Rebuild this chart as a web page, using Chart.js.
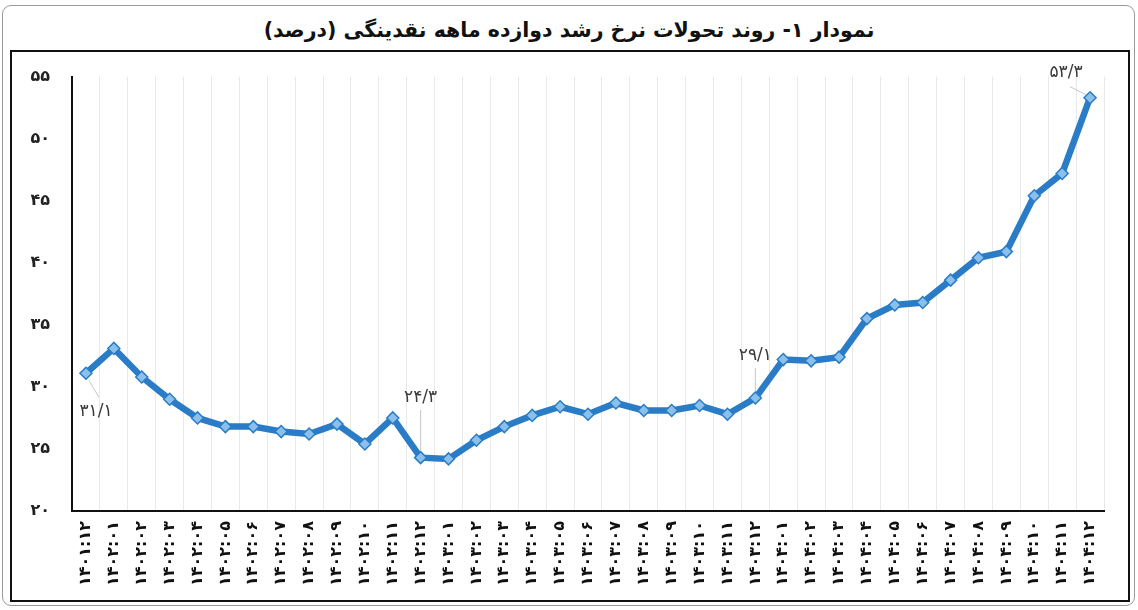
<!DOCTYPE html>
<html>
<head>
<meta charset="utf-8">
<script src="https://cdn.jsdelivr.net/npm/chart.js@4.4.1/dist/chart.umd.min.js"></script>
<style>
  body { margin: 0; width: 1138px; height: 610px; background: #fff; position: relative; overflow: hidden; }
  #outer { position: absolute; left: 2px; top: 5px; width: 1131px; height: 599px; border: 1px solid #9a9a9a; border-radius: 9px; }
  #title { position: absolute; left: 0; top: 18px; width: 1138px; text-align: center; font: bold 20.5px "DejaVu Sans", sans-serif; color: #111; }
  #box { position: absolute; left: 10px; top: 50px; width: 1116px; height: 548px; border: 2px solid #111; }
  #myChart { position: absolute; left: 0; top: -7px; }
</style>
</head>
<body>
<div id="outer"></div>
<div id="title" dir="rtl">نمودار ۱- روند تحولات نرخ رشد دوازده ماهه نقدینگی (درصد)</div>
<div id="box"><canvas id="myChart" width="1116" height="555"></canvas></div>
<script>
  const months = [
    "۱۴۰۱:۱۲",
    "۱۴۰۲:۰۱", "۱۴۰۲:۰۲", "۱۴۰۲:۰۳", "۱۴۰۲:۰۴", "۱۴۰۲:۰۵", "۱۴۰۲:۰۶",
    "۱۴۰۲:۰۷", "۱۴۰۲:۰۸", "۱۴۰۲:۰۹", "۱۴۰۲:۱۰", "۱۴۰۲:۱۱", "۱۴۰۲:۱۲",
    "۱۴۰۳:۰۱", "۱۴۰۳:۰۲", "۱۴۰۳:۰۳", "۱۴۰۳:۰۴", "۱۴۰۳:۰۵", "۱۴۰۳:۰۶",
    "۱۴۰۳:۰۷", "۱۴۰۳:۰۸", "۱۴۰۳:۰۹", "۱۴۰۳:۱۰", "۱۴۰۳:۱۱", "۱۴۰۳:۱۲",
    "۱۴۰۴:۰۱", "۱۴۰۴:۰۲", "۱۴۰۴:۰۳", "۱۴۰۴:۰۴", "۱۴۰۴:۰۵", "۱۴۰۴:۰۶",
    "۱۴۰۴:۰۷", "۱۴۰۴:۰۸", "۱۴۰۴:۰۹", "۱۴۰۴:۱۰", "۱۴۰۴:۱۱", "۱۴۰۴:۱۲"
  ];

  const growth = [
    31.1,
    33.1, 30.8, 29.0, 27.5, 26.8, 26.8, 26.4, 26.2, 27.0, 25.4, 27.5, 24.3,
    24.2, 25.7, 26.8, 27.7, 28.4, 27.8, 28.7, 28.1, 28.1, 28.5, 27.8, 29.1,
    32.2, 32.1, 32.4, 35.5, 36.6, 36.8, 38.6, 40.4, 40.9, 45.4, 47.2, 53.3
  ];

  const yTicks = [20, 25, 30, 35, 40, 45, 50, 55];
  const yTickLabels = ["۲۰", "۲۵", "۳۰", "۳۵", "۴۰", "۴۵", "۵۰", "۵۵"];

  // points that carry a value label
  const labelled = [0, 12, 24, 36];

  const faDigits = "۰۱۲۳۴۵۶۷۸۹";
  function toFa(v) {
    return v.toFixed(1).replace(".", "/").replace(/\d/g, (d) => faDigits[d]);
  }

  // label offsets relative to the point: [text dx, text dy, line from dx,dy, line to dx,dy]
  const labelOffsets = {
    0: [10, 38, 3, 7, 13, 24],
    12: [0, -60, 0, -7, 0, -48],
    24: [0, -42, 0, -7, 0, -30],
    36: [-24, -25, -4, -3, -20, -11],
  };

  const valueLabels = {
    id: "valueLabels",
    afterDatasetsDraw(chart) {
      const ctx = chart.ctx;
      const meta = chart.getDatasetMeta(0);
      ctx.save();
      labelled.forEach((i) => {
        const pt = meta.data[i];
        const o = labelOffsets[i];
        ctx.strokeStyle = "#c8c8c8";
        ctx.lineWidth = 1;
        ctx.beginPath();
        ctx.moveTo(pt.x + o[2], pt.y + o[3]);
        ctx.lineTo(pt.x + o[4], pt.y + o[5]);
        ctx.stroke();
        ctx.fillStyle = "#3a3a3a";
        ctx.font = "17px 'DejaVu Sans', sans-serif";
        ctx.textAlign = "center";
        ctx.textBaseline = "middle";
        ctx.fillText(toFa(growth[i]), pt.x + o[0], pt.y + o[1]);
      });
      ctx.restore();
    },
  };

  const ctx = document.getElementById("myChart").getContext("2d");
  const myChart = new Chart(ctx, {
    type: "line",
    data: {
      labels: months,
      datasets: [
        {
          data: growth,
          borderColor: "#2a7cc6",
          borderWidth: 6.5,
          pointStyle: "rectRot",
          pointRadius: 6,
          pointBackgroundColor: "#8cc0ec",
          pointBorderColor: "#2a7cc6",
          pointBorderWidth: 1.5,
          tension: 0,
        },
      ],
    },
    options: {
      responsive: false,
      devicePixelRatio: 1,
      animation: false,
      layout: { padding: { top: 17, right: 24, left: 0, bottom: 0 } },
      plugins: {
        legend: { display: false },
        tooltip: { enabled: false },
      },
      scales: {
        x: {
          offset: true,
          grid: { offset: true, color: "#e9e9e9", lineWidth: 1, drawTicks: false },
          border: { color: "#111", width: 2 },
          ticks: {
            autoSkip: false,
            minRotation: 90,
            maxRotation: 90,
            padding: 10,
            color: "#111",
            font: { family: "DejaVu Sans", size: 16, weight: "bold" },
          },
          afterFit: (axis) => { axis.height = 89; },
        },
        y: {
          min: 20,
          max: 55,
          afterBuildTicks: (axis) => { axis.ticks = yTicks.map((v) => ({ value: v })); },
          grid: { display: false, drawTicks: false },
          border: { color: "#111", width: 2 },
          ticks: {
            padding: 22,
            color: "#222",
            font: { family: "DejaVu Sans", size: 16, weight: "bold" },
            callback: (v) => yTickLabels[yTicks.indexOf(v)],
          },
          afterFit: (axis) => { axis.width = 60; },
        },
      },
    },
    plugins: [valueLabels],
  });
</script>
</body>
</html>
